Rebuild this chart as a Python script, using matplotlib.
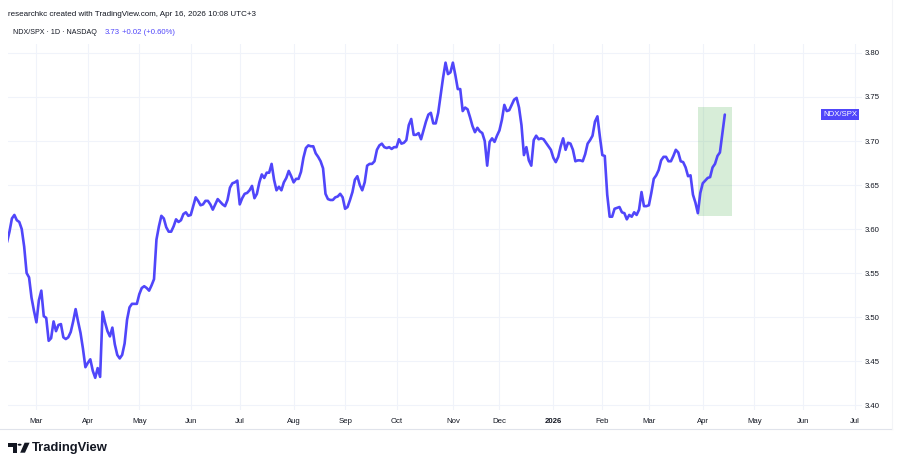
import numpy as np
import matplotlib
matplotlib.use('Agg')
import matplotlib.pyplot as plt
from matplotlib.patches import Rectangle, Polygon, Circle
from matplotlib.lines import Line2D

plt.rcParams['font.family'] = ['Liberation Sans', 'DejaVu Sans']

# ---------------- data ----------------
start_date = '2025-02-12'
nyse_holidays = ['2025-02-17', '2025-04-18', '2025-05-26', '2025-06-19', '2025-07-04',
                 '2025-09-01', '2025-11-27', '2025-12-25', '2026-01-01', '2026-01-19',
                 '2026-02-16', '2026-04-03', '2026-05-25', '2026-06-19', '2026-07-03']

feb25 = [3.585, 3.597, 3.612, 3.616, 3.610, 3.608, 3.600, 3.580, 3.550, 3.545, 3.522, 3.507]
mar25 = [3.494, 3.519, 3.530, 3.501, 3.499, 3.473, 3.476, 3.495, 3.484, 3.491, 3.492,
         3.477, 3.475, 3.477, 3.483, 3.495, 3.509, 3.495, 3.482, 3.464, 3.443]
apr25 = [3.448, 3.452, 3.439, 3.431, 3.442, 3.432, 3.506, 3.494, 3.484, 3.478, 3.488,
         3.469, 3.457, 3.453, 3.457, 3.470, 3.497, 3.511, 3.515, 3.515, 3.515]
may25 = [3.526, 3.533, 3.535, 3.533, 3.530, 3.536, 3.543, 3.588, 3.603, 3.615, 3.612,
         3.602, 3.597, 3.597, 3.603, 3.611, 3.608, 3.610, 3.617, 3.619, 3.615]
jun25 = [3.616, 3.626, 3.636, 3.632, 3.627, 3.628, 3.632, 3.632, 3.628, 3.622, 3.628,
         3.634, 3.631, 3.628, 3.626, 3.633, 3.647, 3.652, 3.653, 3.655]
jul25 = [3.628, 3.635, 3.640, 3.641, 3.644, 3.649, 3.635, 3.640, 3.653, 3.662, 3.658,
         3.664, 3.664, 3.674, 3.656, 3.644, 3.648, 3.644, 3.653, 3.658, 3.666, 3.660]
aug25 = [3.653, 3.657, 3.657, 3.665, 3.681, 3.692, 3.695, 3.694, 3.694, 3.686, 3.682,
         3.677, 3.669, 3.640, 3.634, 3.633, 3.633, 3.636, 3.637, 3.640, 3.636]
sep25 = [3.623, 3.625, 3.633, 3.642, 3.656, 3.660, 3.650, 3.644, 3.653, 3.672, 3.674,
         3.674, 3.677, 3.690, 3.695, 3.697, 3.693, 3.692, 3.693, 3.691, 3.693]
oct25 = [3.693, 3.702, 3.697, 3.698, 3.701, 3.718, 3.725, 3.707, 3.707, 3.709, 3.702,
         3.712, 3.722, 3.730, 3.732, 3.720, 3.720, 3.732, 3.752, 3.772, 3.789, 3.776, 3.778]
nov25 = [3.789, 3.775, 3.759, 3.759, 3.734, 3.738, 3.736, 3.727, 3.717, 3.710, 3.715,
         3.711, 3.709, 3.700, 3.672, 3.699, 3.703, 3.699, 3.706]
dec25 = [3.712, 3.724, 3.741, 3.734, 3.735, 3.741, 3.747, 3.749, 3.738, 3.718, 3.684,
         3.693, 3.678, 3.672, 3.701, 3.706, 3.702, 3.703, 3.702, 3.698, 3.694, 3.690]
jan26 = [3.681, 3.676, 3.682, 3.694, 3.703, 3.690, 3.698, 3.697, 3.690, 3.677, 3.678,
         3.678, 3.677, 3.685, 3.697, 3.701, 3.706, 3.722, 3.728, 3.705]
feb26 = [3.684, 3.683, 3.639, 3.614, 3.614, 3.623, 3.624, 3.625, 3.619, 3.618, 3.611,
         3.616, 3.614, 3.619, 3.616, 3.622, 3.642, 3.626, 3.626]
mar26 = [3.627, 3.641, 3.657, 3.661, 3.667, 3.678, 3.682, 3.682, 3.677, 3.677, 3.683,
         3.690, 3.687, 3.677, 3.676, 3.670, 3.660, 3.661, 3.639, 3.630, 3.618, 3.641]
apr26 = [3.652, 3.655, 3.658, 3.659, 3.670, 3.674, 3.683, 3.687, 3.709, 3.730]

symbol = 'NDX/SPX'
header = 'researchkc created with TradingView.com, Apr 16, 2026 10:08 UTC+3'
legend_name = 'NDX/SPX \u00b7 1D \u00b7 NASDAQ'
last_price = '3.73'
change_text = '+0.02 (+0.60%)'

highlight_start = '2026-03-30'
highlight_end = '2026-04-20'
highlight_low = 3.615
highlight_high = 3.739

tick_months = ['2025-03', '2025-04', '2025-05', '2025-06', '2025-07', '2025-08', '2025-09',
               '2025-10', '2025-11', '2025-12', '2026-01', '2026-02', '2026-03', '2026-04',
               '2026-05', '2026-06', '2026-07']
tick_labels = ['Mar', 'Apr', 'May', 'Jun', 'Jul', 'Aug', 'Sep', 'Oct', 'Nov', 'Dec',
               '2026', 'Feb', 'Mar', 'Apr', 'May', 'Jun', 'Jul']
y_ticks = [3.40, 3.45, 3.50, 3.55, 3.60, 3.65, 3.70, 3.75, 3.80]

ratio = np.array(feb25 + mar25 + apr25 + may25 + jun25 + jul25 + aug25 + sep25 + oct25 +
                 nov25 + dec25 + jan26 + feb26 + mar26 + apr26)

# ---------------- trading-session scale ----------------
hol = np.array(nyse_holidays, dtype='datetime64[D]')
dates = np.busday_offset(np.datetime64(start_date), np.arange(len(ratio)), roll='forward',
                         holidays=hol)


def session(d):
    d = np.busday_offset(np.datetime64(d, 'D'), 0, roll='forward', holidays=hol)
    return np.busday_count(np.datetime64(start_date), d, holidays=hol)


x = np.array([session(d) for d in dates])
tick_pos = [session(m + '-01') for m in tick_months]

# ---------------- figure ----------------
W, H = 906, 458
fig = plt.figure(figsize=(W / 100, H / 100), dpi=100)
fig.patch.set_facecolor('white')


def fx(px):
    return px / W


def fy(py):
    return 1 - py / H


line_color = '#5046fa'
ax = fig.add_axes([fx(8), fy(410), (862 - 8) / W, (410 - 44) / H])
ax.set_facecolor('white')
for s in ax.spines.values():
    s.set_visible(False)

ax.plot(x, ratio, color=line_color, lw=1.9, solid_joinstyle='round', solid_capstyle='round',
        zorder=3)

p0, p1 = session(highlight_start), session(highlight_end)
ax.add_patch(Rectangle((p0, highlight_low), p1 - p0, highlight_high - highlight_low,
                       facecolor='#4caf50', alpha=0.22, edgecolor='none', zorder=2))

ax.set_xlim(0.4, 349)
ax.set_ylim(3.3944, 3.8102)

ax.set_yticks(y_ticks)
ax.set_yticklabels([f'{v:.2f}' for v in y_ticks])
ax.yaxis.tick_right()
ax.tick_params(axis='y', length=0, pad=2.3, labelsize=5.6, labelcolor='#131722')

ax.set_xticks(tick_pos)
ax.set_xticklabels(tick_labels)
ax.tick_params(axis='x', length=0, pad=5.5, labelsize=5.6, labelcolor='#131722')
for lab in ax.get_xticklabels():
    if lab.get_text() == '2026':
        lab.set_fontweight('bold')

ax.grid(True, color='#f0f3fa', lw=0.8, zorder=0)
ax.set_axisbelow(True)

ax.annotate(symbol, xy=(1, ratio[-1]), xycoords=('axes fraction', 'data'),
            xytext=(-3.6, 0), textcoords='offset points', ha='right', va='center',
            color='white', fontsize=5.6,
            bbox=dict(boxstyle='square,pad=0.3', fc=line_color, ec='none'), zorder=5)

# header
fig.text(fx(8), fy(14), header, fontsize=5.8, color='#131722', va='center', ha='left')
fig.text(fx(12.7), fy(33), legend_name, fontsize=5.15, color='#131722', va='center', ha='left')
fig.text(fx(104.3), fy(33), last_price, fontsize=5.6, color=line_color, va='center', ha='left')
fig.text(fx(121.7), fy(33), change_text, fontsize=5.6, color=line_color, va='center', ha='left')

# separator
fig.add_artist(Line2D([0, fx(892)], [fy(429), fy(429)], color='#e0e3eb', lw=0.8))
fig.add_artist(Line2D([fx(892), fx(892)], [fy(429), fy(0)], color='#f3f4f7', lw=0.8))

# TradingView logo
tf = fig.transFigure


def rect_px(x0, y0, x1, y1):
    return Rectangle((fx(x0), fy(y1)), fx(x1) - fx(x0), fy(y0) - fy(y1),
                     transform=tf, facecolor='#131722', edgecolor='none')


fig.add_artist(rect_px(8.3, 442.7, 16.8, 446.6))
fig.add_artist(rect_px(12.6, 442.7, 16.8, 452.7))
fig.add_artist(Circle((fx(19.6), fy(444.7)), radius=2.0 / W, transform=tf,
                      facecolor='#131722', edgecolor='none'))
fig.add_artist(Polygon([(fx(24.6), fy(442.7)), (fx(29.6), fy(442.7)),
                        (fx(25.0), fy(452.7)), (fx(20.2), fy(452.7))],
                       closed=True, transform=tf, facecolor='#131722', edgecolor='none'))
fig.text(fx(32), fy(448), 'TradingView', fontsize=9.4, fontweight='bold', color='#131722',
         va='center', ha='left')

fig.savefig('out.png', dpi=100, facecolor='white')
